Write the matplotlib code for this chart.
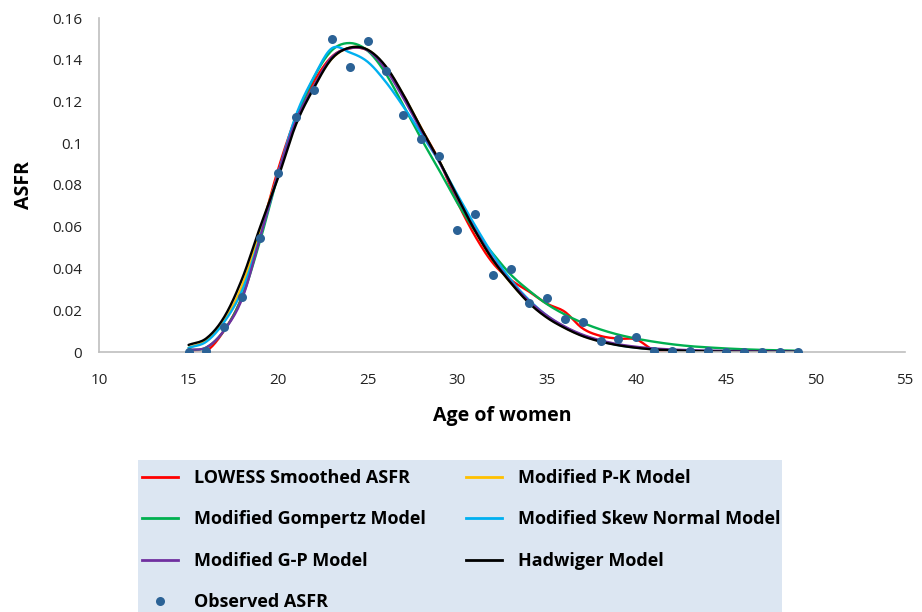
import numpy as np
import matplotlib
matplotlib.use("Agg")
import matplotlib.pyplot as plt
from matplotlib.patches import Rectangle
from matplotlib.lines import Line2D

plt.rcParams['font.family'] = ['Open Sans', 'DejaVu Sans']

ages = list(range(15, 50))

observed = [0.0, 0.0006, 0.0121, 0.0262, 0.0544, 0.0856, 0.1127, 0.1253, 0.1499, 0.1364,
            0.1491, 0.1345, 0.1137, 0.1022, 0.0937, 0.0584, 0.066, 0.0367, 0.040, 0.0236,
            0.026, 0.0158, 0.0145, 0.0054, 0.0064, 0.0072, 0.0005, 0.0004, 0.0006, 0.0003,
            0.0002, 0.0002, 0.0002, 0.0002, 0.0001]

lowess = [0.0, 0.0005, 0.0105, 0.027, 0.0565, 0.0875, 0.1125, 0.1295, 0.1415, 0.1455,
          0.1445, 0.1365, 0.1225, 0.107, 0.0915, 0.072, 0.0555, 0.0425, 0.0345, 0.029,
          0.0232, 0.0193, 0.0113, 0.0077, 0.0064, 0.006, 0.0008, 0.0004, 0.0003, 0.0003,
          0.0003, 0.0003, 0.0003, 0.0003, 0.0003]

pk = [0.002, 0.0055, 0.015, 0.032, 0.058, 0.0855, 0.1105, 0.1275, 0.1405, 0.1458,
      0.1448, 0.1365, 0.123, 0.107, 0.0915, 0.0745, 0.058, 0.044, 0.033, 0.0238,
      0.0168, 0.0117, 0.0078, 0.0052, 0.0034, 0.0022, 0.0014, 0.0009, 0.0006, 0.0004,
      0.0003, 0.0002, 0.0002, 0.0001, 0.0001]

gompertz = [0.0008, 0.0022, 0.0105, 0.0265, 0.0535, 0.0848, 0.1115, 0.1315, 0.1445, 0.148,
            0.1443, 0.1335, 0.118, 0.102, 0.087, 0.0715, 0.058, 0.047, 0.037, 0.0295,
            0.023, 0.018, 0.014, 0.0108, 0.0083, 0.0064, 0.0049, 0.0037, 0.0028, 0.0022,
            0.0017, 0.0013, 0.001, 0.0008, 0.0006]

skew_normal = [0.002, 0.005, 0.0145, 0.0297, 0.0555, 0.0855, 0.1135, 0.1318, 0.1455, 0.1435,
               0.139, 0.1295, 0.1175, 0.1045, 0.091, 0.0755, 0.0605, 0.0465, 0.0345, 0.025,
               0.0175, 0.012, 0.008, 0.0052, 0.0033, 0.0021, 0.0013, 0.0008, 0.0005, 0.0003,
               0.0002, 0.0002, 0.0001, 0.0001, 0.0001]

gp = [0.001, 0.0022, 0.0105, 0.0257, 0.055, 0.0855, 0.111, 0.1275, 0.1412, 0.1455,
      0.1445, 0.1355, 0.1215, 0.106, 0.091, 0.074, 0.0585, 0.0445, 0.0335, 0.0245,
      0.0175, 0.0122, 0.0083, 0.0056, 0.0037, 0.0025, 0.0017, 0.0012, 0.0009, 0.0007,
      0.0005, 0.0004, 0.0003, 0.0003, 0.0002]

hadwiger = [0.0034, 0.0066, 0.0169, 0.0353, 0.060, 0.0835, 0.109, 0.1265, 0.1405, 0.1458,
            0.1448, 0.137, 0.1232, 0.107, 0.0915, 0.0745, 0.058, 0.044, 0.033, 0.0235,
            0.0165, 0.0115, 0.0076, 0.005, 0.0032, 0.002, 0.0012, 0.0008, 0.0005, 0.0003,
            0.0002, 0.0001, 0.0001, 0.0001, 0.0001]

series = [
    ("LOWESS Smoothed ASFR", lowess, "#FF0000"),
    ("Modified P-K Model", pk, "#FFC000"),
    ("Modified Gompertz Model", gompertz, "#00B050"),
    ("Modified Skew Normal Model", skew_normal, "#00B0F0"),
    ("Modified G-P Model", gp, "#7030A0"),
    ("Hadwiger Model", hadwiger, "#000000"),
]
draw_order = [1, 0, 2, 3, 4, 5]


def smooth_line(x, y, n=12):
    """Catmull-Rom rendering (like Excel's smoothed line) through the given points."""
    x = np.asarray(x, float)
    y = np.asarray(y, float)
    px = np.concatenate([[2 * x[0] - x[1]], x, [2 * x[-1] - x[-2]]])
    py = np.concatenate([[2 * y[0] - y[1]], y, [2 * y[-1] - y[-2]]])
    xs, ys = [], []
    t = np.linspace(0, 1, n, endpoint=False)
    for i in range(1, len(px) - 2):
        for arr, out in ((px, xs), (py, ys)):
            p0, p1, p2, p3 = arr[i - 1], arr[i], arr[i + 1], arr[i + 2]
            out.extend(0.5 * ((2 * p1) + (-p0 + p2) * t
                              + (2 * p0 - 5 * p1 + 4 * p2 - p3) * t ** 2
                              + (-p0 + 3 * p1 - 3 * p2 + p3) * t ** 3))
    xs.append(x[-1])
    ys.append(y[-1])
    return np.array(xs), np.array(ys)


W, H = 922, 612
fig = plt.figure(figsize=(W / 100, H / 100), dpi=100)
ax = fig.add_axes([99 / W, 1 - 352 / H, (905 - 99) / W, (352 - 18) / H])

for idx in draw_order:
    label, vals, col = series[idx]
    sx, sy = smooth_line(ages, vals)
    ax.plot(sx, sy, color=col, lw=1.7, solid_capstyle='round', zorder=2 + idx * 0.1)

ax.plot(ages, observed, 'o', color='#2B6296', markersize=6.5, markeredgewidth=0, zorder=5)

ax.set_xlim(10, 55)
ax.set_ylim(0, 0.16)
xticks = [10, 15, 20, 25, 30, 35, 40, 45, 50, 55]
yticks = [0, 0.02, 0.04, 0.06, 0.08, 0.1, 0.12, 0.14, 0.16]
ytick_labels = ["0", "0.02", "0.04", "0.06", "0.08", "0.1", "0.12", "0.14", "0.16"]
ax.set_xticks(xticks)
ax.set_xticklabels([str(v) for v in xticks])
ax.set_yticks(yticks)
ax.set_yticklabels(ytick_labels)
ax.tick_params(axis='both', length=0, labelsize=11, colors='#222222')
ax.tick_params(axis='x', pad=15)
ax.tick_params(axis='y', pad=12)
for s in ['top', 'right']:
    ax.spines[s].set_visible(False)
for s in ['left', 'bottom']:
    ax.spines[s].set_color('#BFBFBF')
    ax.spines[s].set_linewidth(1.2)

ax.set_xlabel("Age of women", fontsize=14, fontweight='bold', labelpad=13)
ax.set_ylabel("ASFR", fontsize=14, fontweight='bold', labelpad=13)

# legend background
fig.patches.append(Rectangle((138 / W, 0), (782 - 138) / W, (612 - 460) / H,
                             transform=fig.transFigure, facecolor='#DCE6F2',
                             edgecolor='none', zorder=0))

handles = []
labels = []
order = [0, 2, 4, None, 1, 3, 5]
for o in order:
    if o is None:
        handles.append(Line2D([], [], marker='o', linestyle='none', color='#2B6296',
                              markersize=6.5, markeredgewidth=0))
        labels.append("Observed ASFR")
    else:
        label, vals, col = series[o]
        handles.append(Line2D([], [], color=col, lw=2))
        labels.append(label)

leg = fig.legend(handles, labels, ncol=2, loc='upper left',
                 bbox_to_anchor=(142 / W, 1 - 469 / H), frameon=False,
                 borderpad=0, borderaxespad=0,
                 prop={'size': 13, 'weight': 'bold'}, handlelength=2.0,
                 handletextpad=0.9, labelspacing=1.3, columnspacing=2.2)

fig.savefig("out.png", dpi=100)
